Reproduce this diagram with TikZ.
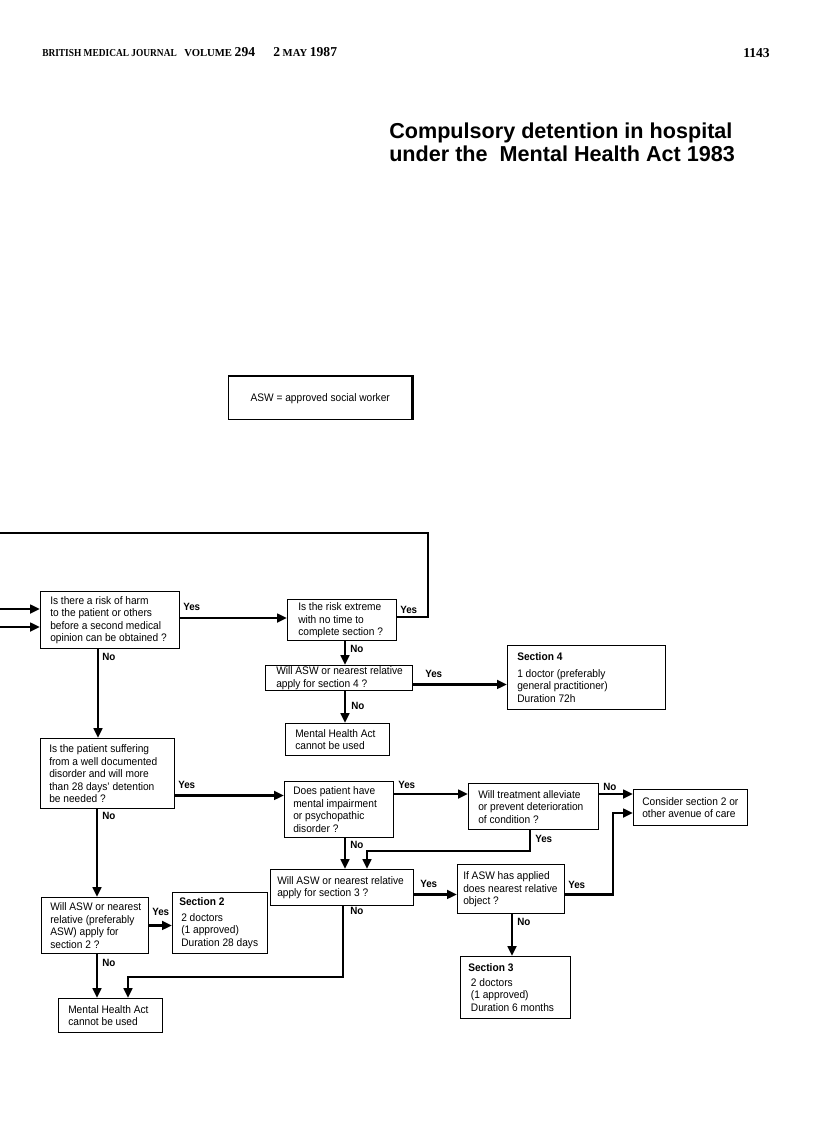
\documentclass[tikz,border=0pt]{standalone}
\usepackage{fontspec}
\setmainfont{Liberation Sans}
\newfontfamily\flowfont{Liberation Sans}[FakeStretch=0.93]
\newfontfamily\serifhead{Liberation Serif}
\newfontfamily\serifnarrow{Liberation Serif}[FakeStretch=0.88]
\usetikzlibrary{arrows.meta,calc}
\tikzset{
  box/.style={draw, line width=1.1pt, fill=white, inner sep=0pt},
  txt/.style={anchor=west, align=left, inner sep=0pt, font=\flowfont\fontsize{8.2}{9.4}\selectfont},
  conn/.style={line width=2.2pt},
  arr/.style={conn, -{Triangle[length=7.5pt,width=6.5pt]}},
  lab/.style={font=\flowfont\fontsize{7.9}{9}\selectfont\bfseries, inner sep=0pt, anchor=west},
  head/.style={inner sep=0pt, anchor=base west, font=\serifhead\bfseries\fontsize{8}{8}\selectfont},
  ttl/.style={inner sep=0pt, anchor=base west, font=\fontsize{16.2}{17}\selectfont\bfseries},
}
\newcommand\FB[7]{%
  \pgfmathsetmacro\fbw{(#4-#2)*0.75}%
  \pgfmathsetmacro\fbh{(#5-#3)*0.75}%
  \node[box, anchor=north west, minimum width=\fbw pt, minimum height=\fbh pt] (#1) at (#2,#3) {};
  \node[txt] (#1t) at ($(#1.west)+(#6,0)$) {#7};}
\newcommand\bigdig[1]{{\fontsize{10.2}{9}\selectfont #1}}
\begin{document}
\begin{tikzpicture}[x=0.75pt,y=-0.75pt]
\path[use as bounding box, fill=white] (0,0) rectangle (816,1121);

% header
\node[head, font=\serifnarrow\bfseries\fontsize{8}{8}\selectfont] (hj) at (42,56) {BRITISH MEDICAL JOURNAL};
\node[head] (hv) at (184,56) {VOLUME \bigdig{294}};
\node[head] (hd) at (273,56) {\bigdig{2} MAY \bigdig{1987}};
\node[head, anchor=base east, font=\serifhead\bfseries\fontsize{10.2}{10}\selectfont] (hp) at (770,57) {1143};

% title
\node[ttl] (t1) at (389,138) {Compulsory detention in hospital};
\node[ttl] (t2) at (389,161) {under the\ \ Mental Health Act 1983};

% legend
\node[box, anchor=north west, minimum width=137.25pt, minimum height=32.25pt] (asw) at (228,376) {};
\node[txt, anchor=center] (aswt) at (asw.center) {ASW = approved social worker};
\draw[line width=2.2pt] (asw.north west) -- (asw.north east) -- (asw.south east);

% boxes
\FB{b1}{40}{591}{179}{648}{10}{Is there a risk of harm\\to the patient or others\\before a second medical\\opinion can be obtained ?}
\FB{b2}{287}{599}{396}{640}{11}{Is the risk extreme\\with no time to\\complete section ?}
\FB{b3}{265}{665}{412}{690}{11}{Will ASW or nearest relative\\apply for section 4 ?}
\FB{s4}{507}{645}{665}{709}{10}{\textbf{Section 4}\\[3pt]1 doctor (preferably\\general practitioner)\\Duration 72h}
\FB{b4}{285}{723}{389}{755}{10}{Mental Health Act\\cannot be used}
\FB{b5}{40}{738}{174}{808}{9}{Is the patient suffering\\from a well documented\\disorder and will more\\than 28 days’ detention\\be needed ?}
\FB{b6}{284}{781}{393}{837}{9}{Does patient have\\mental impairment\\or psychopathic\\disorder ?}
\FB{b7}{468}{783}{598}{829}{10}{Will treatment alleviate\\or prevent deterioration\\of condition ?}
\FB{cs}{633}{789}{747}{825}{9}{Consider section 2 or\\other avenue of care}
\FB{b8}{270}{869}{413}{905}{7}{Will ASW or nearest\ relative\\apply for section 3 ?}
\FB{b9}{457}{864}{564}{913}{6}{If ASW has applied\\does nearest\ relative\\object ?}
\FB{s3}{460}{956}{570}{1018}{8}{\textbf{Section 3}\\[1.5pt]\hspace*{2pt}2 doctors\\\hspace*{2pt}(1 approved)\\\hspace*{2pt}Duration 6 months}
\FB{b10}{41}{897}{148}{953}{9}{Will ASW or nearest\\relative (preferably\\ASW) apply for\\section 2 ?}
\FB{s2}{172}{892}{267}{953}{7}{\textbf{Section 2}\\[2pt]\hspace*{1.5pt}2 doctors\\\hspace*{1.5pt}(1 approved)\\\hspace*{1.5pt}Duration 28 days}
\FB{b11}{58}{998}{162}{1032}{10}{Mental Health Act\\cannot be used}

% incoming connectors from the facing page
\coordinate (in1) at (0,609);
\coordinate (in2) at (0,627);
\coordinate (loopend) at (0,533);
\coordinate (loopc) at (428,533);
\draw[arr] (in1) -- (in1 -| b1.west);
\draw[arr] (in2) -- (in2 -| b1.west);
\coordinate (b2e) at ($(b2.north east)+(0,18)$);
\draw[conn] (b2e) -| (loopc) -- (loopend);
\node[lab] (ly0) at (400,610) {Yes};

% b1
\coordinate (b1e) at ($(b1.north east)+(0,27)$);
\draw[arr] (b1e) -- (b1e -| b2.west);
\node[lab] (ly1) at (183,607) {Yes};
\coordinate (b1s) at ($(b1.south west)+(58,0)$);
\draw[arr] (b1s) -- (b1s |- b5.north);
\node[lab] (ln1) at (102,657) {No};

% b2
\coordinate (b2s) at ($(b2.south west)+(58,0)$);
\draw[arr] (b2s) -- (b2s |- b3.north);
\node[lab] (ln2) at (350,649) {No};

% b3
\coordinate (b3e) at ($(b3.south east)+(0,-7)$);
\draw[arr] (b3e) -- (b3e -| s4.west);
\node[lab] (ly3) at (425,674) {Yes};
\coordinate (b3s) at ($(b3.south west)+(80,0)$);
\draw[arr] (b3s) -- (b3s |- b4.north);
\node[lab] (ln3) at (351,706) {No};

% b5
\coordinate (b5e) at ($(b5.south east)+(0,-14)$);
\draw[arr] (b5e) -- (b5e -| b6.west);
\node[lab] (ly5) at (178,785) {Yes};
\coordinate (b5s) at ($(b5.south west)+(57,0)$);
\draw[arr] (b5s) -- (b5s |- b10.north);
\node[lab] (ln5) at (102,816) {No};

% b6
\coordinate (b6e) at ($(b6.north east)+(0,13)$);
\draw[arr] (b6e) -- (b6e -| b7.west);
\node[lab] (ly6) at (398,785) {Yes};
\coordinate (b6s) at ($(b6.south west)+(61,0)$);
\draw[arr] (b6s) -- (b6s |- b8.north);
\node[lab] (ln6) at (350,845) {No};

% b7
\coordinate (b7e) at ($(b7.north east)+(0,11)$);
\draw[arr] (b7e) -- (b7e -| cs.west);
\node[lab] (ln7) at (603,787) {No};
\coordinate (b7s) at ($(b7.south west)+(62,0)$);
\coordinate (m1) at (367,851);
\draw[arr] (b7s) |- (m1) -- (m1 |- b8.north);
\node[lab] (ly7) at (535,839) {Yes};

% b8
\coordinate (b8e) at ($(b8.south east)+(0,-12)$);
\draw[arr] (b8e) -- (b8e -| b9.west);
\node[lab] (ly8) at (420,884) {Yes};
\coordinate (b8s) at ($(b8.south west)+(73,0)$);
\coordinate (m3) at (128,977);
\draw[arr] (b8s) |- (m3) -- (m3 |- b11.north);
\node[lab] (ln8) at (350,911) {No};

% b9
\coordinate (b9e) at ($(b9.south east)+(0,-20)$);
\coordinate (m2) at (613,813);
\draw[arr] (b9e) -| (m2) -- (m2 -| cs.west);
\node[lab] (ly9) at (568,885) {Yes};
\coordinate (b9s) at ($(b9.south west)+(55,0)$);
\draw[arr] (b9s) -- (b9s |- s3.north);
\node[lab] (ln9) at (517,922) {No};

% b10
\coordinate (b10e) at ($(b10.south east)+(0,-29)$);
\draw[arr] (b10e) -- (b10e -| s2.west);
\node[lab] (ly10) at (152,912) {Yes};
\coordinate (b10s) at ($(b10.south west)+(56,0)$);
\draw[arr] (b10s) -- (b10s |- b11.north);
\node[lab] (ln10) at (102,963) {No};
\end{tikzpicture}
\end{document}
